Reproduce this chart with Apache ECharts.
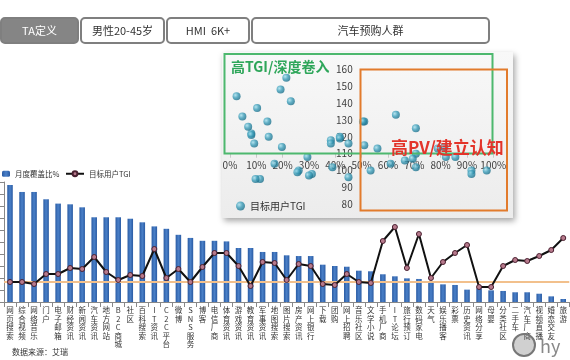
<!DOCTYPE html>
<html><head><meta charset="utf-8">
<script src="https://cdn.jsdelivr.net/npm/echarts@6/dist/echarts.min.js"></script>
<style>html,body{margin:0;padding:0;background:#fff}#c{width:570px;height:360px}</style>
</head><body><div id="c"></div>
<script>
const categories = ['网页搜索','综合视频','网络音乐','门户','电子邮箱','财经资讯','新闻资讯','汽车资讯','地方网站','B2C商城','社区','百科搜索','IT资讯','C2C平台','微博','SNS服务','博客','电信厂商','体育资讯','游戏资讯','教育资讯','军事资讯','地图搜索','图片搜索','房产资讯','网上银行','下载','团购','网上招聘','音乐社区','文学小说','手机厂商','IT论坛','旅行预订','数码家电','天气','娱乐播客','彩票','历史资讯','网络分享','母婴','分类社区','二手车','汽车厂商','视频直播','婚恋交友','旅游'];
const coverage = [97.5,91.7,91.7,85.6,82,81.4,78.9,70.6,70.6,70.6,69.4,66.4,63,61,56,53.4,51,51,50.5,45,45,41.7,41.7,38.9,38.3,38.3,31.1,30,29.4,26.1,25.6,23.1,21.4,19.7,19.2,16.9,14.7,14.2,10.3,11.4,9.7,9.2,8.1,8.1,6.9,4.7,2.5];
const tgi = [100,100,98,108,108,114,113,125,110,102,107,106,133,104,113,100,115,129,129,116,96,120,119,102,118,116,98,97,108,100,99,141,155,114,148,104,120,129,137,95,95,116,122,121,126,132,144];
const scatterXTicks = [0,10,20,30,40,50,60,70,80,90,100];
const tabs = ['TA定义','男性20-45岁','HMI  6K+','汽车预购人群'];

const FONT = '"Noto Sans CJK SC", "Microsoft YaHei", sans-serif';
const chart = echarts.init(document.getElementById('c'));

const tabBoxes = [[0,79],[80,165],[166,250],[251,490]];
const graphics = [];
tabs.forEach((t,i)=>{
  const [x0,x1] = tabBoxes[i];
  graphics.push({type:'rect', z:10, shape:{x:x0+1,y:18,width:x1-x0-2,height:25,r:4},
    style:{fill: i===0?'#858585':'#fff', stroke:'#7f7f7f', lineWidth:2}});
  graphics.push({type:'text', z:11, x:(x0+x1)/2, y:30.5,
    style:{text:t, fill:i===0?'#fff':'#333', font:'11px '+FONT, align:'center', verticalAlign:'middle'}});
});
// scatter panel
graphics.push({type:'rect', z:1, shape:{x:222,y:52,width:291,height:166},
  style:{fill:new echarts.graphic.LinearGradient(0,0,0,1,[{offset:0,color:'#f8f8f8'},{offset:1,color:'#ececec'}]),
  shadowBlur:6, shadowColor:'rgba(0,0,0,0.35)', shadowOffsetX:2, shadowOffsetY:3}});
graphics.push({type:'rect', z:6, shape:{x:224.5,y:54,width:268,height:99.5},
  style:{fill:'none', stroke:'#4db86e', lineWidth:2}});
graphics.push({type:'rect', z:6, shape:{x:360.5,y:69.5,width:146.5,height:141},
  style:{fill:'none', stroke:'#e27b2c', lineWidth:2}});
graphics.push({type:'text', z:7, x:231, y:67,
  style:{text:'高TGI/深度卷入', fill:'#2ea65a', font:'bold 14px '+FONT, verticalAlign:'middle'}});
graphics.push({type:'text', z:7, x:391, y:148,
  style:{text:'高PV/建立认知', fill:'#e3342a', font:'bold 17px '+FONT, verticalAlign:'middle'}});
graphics.push({type:'text', z:7, x:12, y:352,
  style:{text:'数据来源：艾瑞', fill:'#333', font:'8px '+FONT, verticalAlign:'middle'}});
// watermark
graphics.push({type:'circle', z:7, shape:{cx:524,cy:345,r:11}, style:{fill:'rgba(120,120,120,0.35)', stroke:'#777', lineWidth:2}});
graphics.push({type:'text', z:7, x:540, y:346, style:{text:'hy', fill:'#888', font:'18px '+FONT, verticalAlign:'middle'}});

const option = {
  animation:false,
  backgroundColor:'#fff',
  textStyle:{fontFamily:FONT},
  graphic: graphics,
  legend:[
    {left:-3, top:165, itemWidth:8, itemHeight:6, itemGap:6, data:['月度覆盖比%'], textStyle:{fontSize:7.5,color:'#333'}},
    {left:60, top:165, itemWidth:18, itemHeight:6, data:['目标用户TGI'], textStyle:{fontSize:7.5,color:'#333'}},
    {left:231, top:196, itemWidth:9, itemHeight:9, z:8, data:['散点TGI'], formatter:()=> '目标用户TGI', textStyle:{fontSize:10,color:'#333'}}
  ],
  grid:[
    {left:4, right:0, top:182, bottom:58},
    {left:230, right:76.7, top:69.3, bottom:155.7}
  ],
  xAxis:[
    {type:'category', gridIndex:0, data:categories,
      axisLine:{lineStyle:{color:'#888'}}, axisTick:{show:true, lineStyle:{color:'#888'}},
      axisLabel:{interval:0, fontSize:7.5, lineHeight:8.5, color:'#333', margin:4, verticalAlign:'top',
        formatter:v=>v.split('').join('\n')}},
    {type:'value', gridIndex:1, min:0, max:100, interval:10, offset:-50.6, z:3,
      axisLine:{show:true, lineStyle:{color:'#c8c8c8'}}, axisTick:{show:true, inside:false, length:4, lineStyle:{color:'#c8c8c8'}},
      splitLine:{show:false},
      axisLabel:{formatter:'{value}%', fontSize:10, color:'#404040', margin:7}}
  ],
  yAxis:[
    {type:'value', gridIndex:0, min:0, max:100, interval:10,
      axisLine:{show:true, lineStyle:{color:'#888'}}, axisTick:{show:true, lineStyle:{color:'#888'}},
      axisLabel:{show:false}, splitLine:{show:false}},
    {type:'value', gridIndex:0, min:80, max:200, show:false, splitLine:{show:false}},
    {type:'value', gridIndex:1, min:80, max:160, interval:10, offset:-131.7, z:3,
      axisLine:{show:false}, axisTick:{show:false}, splitLine:{show:false},
      axisLabel:{fontSize:10, color:'#404040', margin:9}}
  ],
  series:[
    {name:'月度覆盖比%', type:'bar', xAxisIndex:0, yAxisIndex:0, data:coverage, barWidth:'46%',
      itemStyle:{color:new echarts.graphic.LinearGradient(0,0,1,0,[{offset:0,color:'#2a5ba3'},{offset:0.5,color:'#4a80c8'},{offset:1,color:'#2a5ba3'}])}},
    {name:'目标用户TGI', type:'line', xAxisIndex:0, yAxisIndex:1, data:tgi, z:4,
      symbol:'circle', symbolSize:5,
      lineStyle:{color:'#111', width:2},
      itemStyle:{color:'#b77a8c', borderColor:'#4a2030', borderWidth:1},
      markLine:{silent:true, symbol:'none', label:{show:false}, z:3,
        lineStyle:{color:'#f2c08c', width:2, type:'solid'}, data:[{yAxis:100}]}},
    {name:'散点TGI', type:'scatter', xAxisIndex:1, yAxisIndex:2, z:5,
      data: coverage.map((c,i)=>[c, tgi[i]]), symbolSize:8,
      itemStyle:{color:new echarts.graphic.RadialGradient(0.35,0.35,0.7,[{offset:0,color:'#a6e0ee'},{offset:0.5,color:'#3a9cb8'},{offset:1,color:'#1b6d88'}])}}
  ]
};
chart.setOption(option);
</script></body></html>
